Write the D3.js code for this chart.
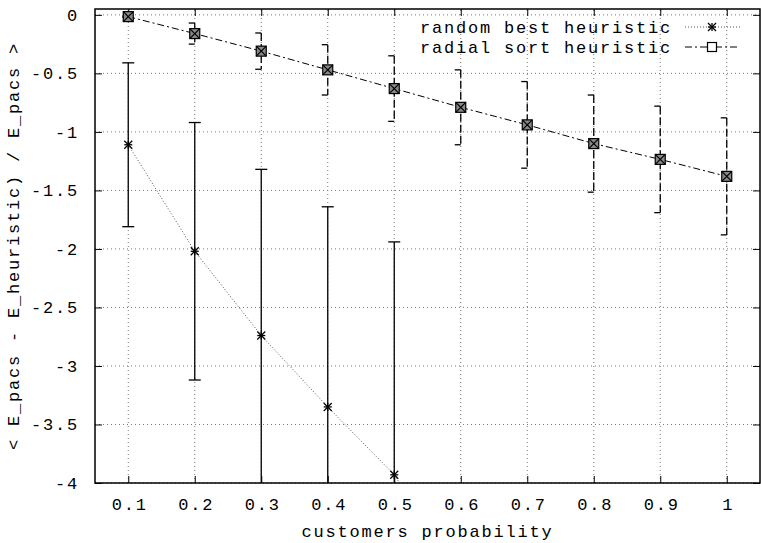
<!DOCTYPE html>
<html>
<head>
<meta charset="utf-8">
<script src="https://cdn.jsdelivr.net/npm/d3@7"></script>
<style>
  html, body { margin: 0; padding: 0; background: #fff; }
  svg { display: block; }
  text { font-family: "Liberation Mono", "DejaVu Sans Mono", monospace; fill: #000; }
</style>
</head>
<body>
<svg id="chart" width="761" height="543"></svg>
<script>
// ---- data ----
const xTicks = [0.1, 0.2, 0.3, 0.4, 0.5, 0.6, 0.7, 0.8, 0.9, 1];
const xTickLabels = ["0.1", "0.2", "0.3", "0.4", "0.5", "0.6", "0.7", "0.8", "0.9", "1"];
const yTicks = [0, -0.5, -1, -1.5, -2, -2.5, -3, -3.5, -4];
const yTickLabels = ["0", "-0.5", "-1", "-1.5", "-2", "-2.5", "-3", "-3.5", "-4"];

const randomX = [0.1, 0.2, 0.3, 0.4, 0.5, 0.6];
const randomY = [-1.11, -2.02, -2.74, -3.35, -3.93, -4.80];
const randomErr = [0.70, 1.10, 1.42, 1.71, 1.99, null];

const radialX = [0.1, 0.2, 0.3, 0.4, 0.5, 0.6, 0.7, 0.8, 0.9, 1.0];
const radialY = [-0.015, -0.16, -0.31, -0.47, -0.63, -0.79, -0.94, -1.10, -1.235, -1.38];
const radialErr = [0.005, 0.09, 0.155, 0.215, 0.28, 0.32, 0.37, 0.415, 0.455, 0.50];

const seriesNames = ["random best heuristic", "radial sort heuristic"];
const xLabel = "customers probability";
const yLabel = "< E_pacs - E_heuristic) / E_pacs >";

// ---- layout ----
const svg = d3.select("#chart");
const L = 95, R = 760, T = 9, B = 483;
const x = d3.scaleLinear().domain([0.05, 1.05]).range([L, R]);
const y = d3.scaleLinear().domain([-4, 0.05]).range([B, T]);

svg.append("defs").append("clipPath").attr("id", "clip")
  .append("rect").attr("x", L).attr("y", T).attr("width", R - L).attr("height", B - T);

const fs = "17px";
const ls = "1.8px";

// grid
const grid = svg.append("g").attr("stroke", "#777").attr("stroke-width", 1)
  .attr("stroke-dasharray", "1,3").attr("fill", "none");
xTicks.forEach(v => {
  grid.append("line").attr("x1", x(v)).attr("x2", x(v)).attr("y1", B).attr("y2", T);
});
yTicks.forEach(v => {
  grid.append("line").attr("x1", L).attr("x2", R).attr("y1", y(v)).attr("y2", y(v));
});

// axes via d3
const tickLen = 7;
const xAxisB = d3.axisBottom(x).tickValues(xTicks).tickFormat((d, i) => xTickLabels[i])
  .tickSizeInner(-tickLen).tickSizeOuter(0).tickPadding(15);
const gx = svg.append("g").attr("transform", `translate(0,${B})`).call(xAxisB);
gx.select(".domain").remove();
gx.selectAll("text").style("font-size", fs).style("letter-spacing", ls)
  .attr("font-family", "Liberation Mono").attr("dx", "0.9px");
gx.selectAll("line").attr("stroke", "#000");

const xAxisT = d3.axisTop(x).tickValues(xTicks).tickFormat("").tickSizeInner(-tickLen).tickSizeOuter(0);
const gxt = svg.append("g").attr("transform", `translate(0,${T})`).call(xAxisT);
gxt.select(".domain").remove();
gxt.selectAll("line").attr("stroke", "#000");

const yAxisL = d3.axisLeft(y).tickValues(yTicks).tickFormat((d, i) => yTickLabels[i])
  .tickSizeInner(-tickLen).tickSizeOuter(0).tickPadding(16);
const gy = svg.append("g").attr("transform", `translate(${L},0)`).call(yAxisL);
gy.select(".domain").remove();
gy.selectAll("text").style("font-size", fs).style("letter-spacing", ls)
  .attr("font-family", "Liberation Mono");
gy.selectAll("line").attr("stroke", "#000");

const yAxisR = d3.axisRight(y).tickValues(yTicks).tickFormat("").tickSizeInner(-tickLen).tickSizeOuter(0);
const gyr = svg.append("g").attr("transform", `translate(${R},0)`).call(yAxisR);
gyr.select(".domain").remove();
gyr.selectAll("line").attr("stroke", "#000");

// frame
svg.append("rect").attr("x", L).attr("y", T).attr("width", R - L).attr("height", B - T)
  .attr("fill", "none").attr("stroke", "#000").attr("stroke-width", 1.5);

// axis labels
svg.append("text").attr("x", (L + R) / 2).attr("y", 537).attr("text-anchor", "middle")
  .style("font-size", fs).style("letter-spacing", ls).text(xLabel);
svg.append("text").attr("transform", `translate(19,${(T + B) / 2}) rotate(-90)`)
  .attr("text-anchor", "middle").style("font-size", fs).style("letter-spacing", ls).text(yLabel);

const plot = svg.append("g").attr("clip-path", "url(#clip)");

// markers
function star(g, cx, cy, s) {
  const p = g.append("g").attr("stroke", "#000").attr("stroke-width", 1.3);
  p.append("line").attr("x1", cx - s).attr("x2", cx + s).attr("y1", cy).attr("y2", cy);
  p.append("line").attr("x1", cx).attr("x2", cx).attr("y1", cy - s).attr("y2", cy + s);
  p.append("line").attr("x1", cx - s).attr("x2", cx + s).attr("y1", cy - s).attr("y2", cy + s);
  p.append("line").attr("x1", cx - s).attr("x2", cx + s).attr("y1", cy + s).attr("y2", cy - s);
}
function boxX(g, cx, cy, s, withX) {
  const p = g.append("g").attr("stroke", "#000").attr("stroke-width", 1.2).attr("fill", "none");
  p.append("rect").attr("x", cx - s).attr("y", cy - s).attr("width", 2 * s).attr("height", 2 * s)
    .attr("fill", withX ? "#888" : "#fff");
  if (withX) {
    p.append("line").attr("x1", cx - s).attr("x2", cx + s).attr("y1", cy - s).attr("y2", cy + s);
    p.append("line").attr("x1", cx - s).attr("x2", cx + s).attr("y1", cy + s).attr("y2", cy - s);
  }
}

// random series
const line = d3.line().x(d => x(d[0])).y(d => y(d[1]));
const rnd = randomX.map((v, i) => [v, randomY[i], randomErr[i]]);
plot.append("path").datum(rnd).attr("d", line).attr("fill", "none")
  .attr("stroke", "#555").attr("stroke-width", 1).attr("stroke-dasharray", "1,2");
rnd.forEach(d => {
  if (d[2] == null || d[1] < -4) return;
  const cx = x(d[0]);
  plot.append("line").attr("x1", cx).attr("x2", cx).attr("y1", y(d[1] + d[2])).attr("y2", y(d[1] - d[2]))
    .attr("stroke", "#000").attr("stroke-width", 1.3);
  [d[1] + d[2], d[1] - d[2]].forEach(v => {
    plot.append("line").attr("x1", cx - 6).attr("x2", cx + 6).attr("y1", y(v)).attr("y2", y(v))
      .attr("stroke", "#000").attr("stroke-width", 1.3);
  });
  star(plot, cx, y(d[1]), 4);
});

// radial series
const rad = radialX.map((v, i) => [v, radialY[i], radialErr[i]]);
plot.append("path").datum(rad).attr("d", line).attr("fill", "none")
  .attr("stroke", "#000").attr("stroke-width", 1).attr("stroke-dasharray", "7,3,2,3");
rad.forEach(d => {
  const cx = x(d[0]);
  plot.append("line").attr("x1", cx).attr("x2", cx).attr("y1", y(d[1] + d[2])).attr("y2", y(d[1] - d[2]))
    .attr("stroke", "#000").attr("stroke-width", 1.3).attr("stroke-dasharray", "8,3");
  [d[1] + d[2], d[1] - d[2]].forEach(v => {
    plot.append("line").attr("x1", cx - 6).attr("x2", cx).attr("y1", y(v)).attr("y2", y(v))
      .attr("stroke", "#000").attr("stroke-width", 1.3);
  });
  boxX(plot, cx, y(d[1]), 5, true);
});

// legend
const lg = svg.append("g");
const rows = [27, 47];
seriesNames.forEach((n, i) => {
  lg.append("text").attr("x", 672).attr("y", rows[i]).attr("dy", "0.35em").attr("text-anchor", "end")
    .style("font-size", fs).style("letter-spacing", ls).text(n);
});
lg.append("line").attr("x1", 685).attr("x2", 740).attr("y1", rows[0]).attr("y2", rows[0])
  .attr("stroke", "#555").attr("stroke-dasharray", "1,2");
star(lg, 712, rows[0], 4);
lg.append("line").attr("x1", 685).attr("x2", 740).attr("y1", rows[1]).attr("y2", rows[1])
  .attr("stroke", "#000").attr("stroke-dasharray", "7,3,2,3");
boxX(lg, 712, rows[1], 4.5, false);
</script>
</body>
</html>
